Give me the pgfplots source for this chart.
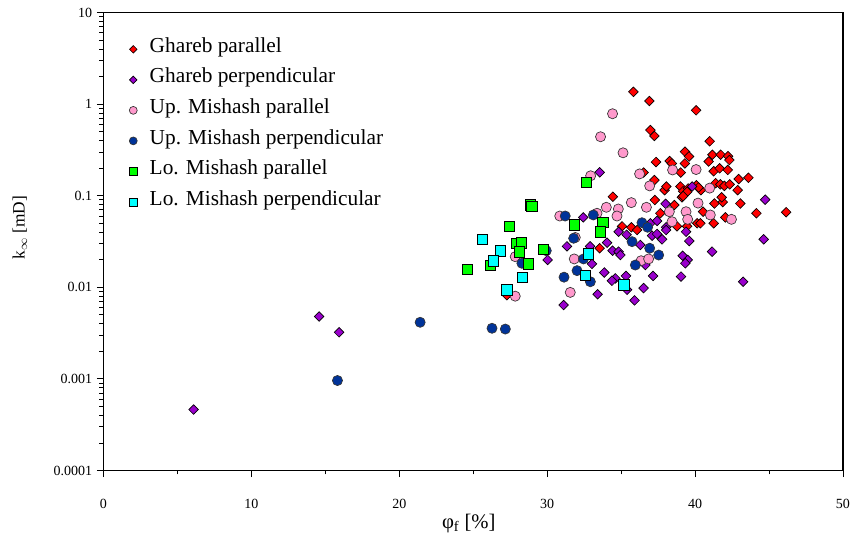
\documentclass[border=0pt]{standalone}
\usepackage{fontspec}
\setmainfont{Liberation Serif}
\usepackage{pgfplots}
\pgfplotsset{compat=1.18}
\definecolor{cred}{HTML}{FF0000}
\definecolor{cpurple}{HTML}{9900CC}
\definecolor{cpink}{HTML}{FF99CC}
\definecolor{cblue}{HTML}{003399}
\definecolor{cgreen}{HTML}{00FF00}
\definecolor{ccyan}{HTML}{00FFFF}
\begin{document}
\begin{tikzpicture}
\begin{axis}[
  at={(0,0)}, anchor=south west,
  scale only axis, width=554.6pt, height=343.5pt,
  xmin=0, xmax=50, ymode=log, ymin=1e-4, ymax=10,
  xtick={0,10,20,30,40,50}, minor xtick={5,15,25,35,45},
  ytick={1e-4,1e-3,1e-2,1e-1,1,10},
  yticklabels={0.0001,0.001,0.01,0.1,1,10},
  minor ytick={2e-4,3e-4,4e-4,5e-4,6e-4,7e-4,8e-4,9e-4,
               2e-3,3e-3,4e-3,5e-3,6e-3,7e-3,8e-3,9e-3,
               2e-2,3e-2,4e-2,5e-2,6e-2,7e-2,8e-2,9e-2,
               0.2,0.3,0.4,0.5,0.6,0.7,0.8,0.9,
               2,3,4,5,6,7,8,9},
  tick align=outside, tick pos=left,
  major tick length=5pt, minor tick length=3pt,
  axis line style={line width=0.8pt},
  every tick/.style={black, line width=0.6pt},
  tick label style={font=\fontsize{10.5}{12}\selectfont},
  /pgf/number format/assume math mode=true,
  xticklabel style={yshift=-13pt},
  every axis y label/.style={at={(axis description cs:-0.113,0.53)}, rotate=90, anchor=center, font=\fontsize{13}{16}\selectfont},
  every axis x label/.style={at={(axis description cs:0.494,-0.1147)}, anchor=center, font=\fontsize{15.5}{18}\selectfont},
  xlabel={φ\textsubscript{f} [\%]},
  ylabel={k$_\infty$ [mD]},
  legend style={at={(axis description cs:0.029,0.946)}, anchor=north west,
    draw=none, fill=none, font=\fontsize{16}{19}\selectfont,
    nodes={inner sep=2pt, text height=0.72em, text depth=0.25em},
    row sep=9.2pt, column sep=7.3pt},
  legend cell align=left,
  legend image code/.code={\draw[#1, every mark/.append style={scale=0.78}] plot coordinates {(0pt,0pt)};},
]
\addplot[only marks, mark=square*, mark size=2.55pt, mark options={rotate=45, fill=cred, draw=black, line width=0.5pt}] table {
x y
35.83 1.36
36.91 1.08
40.07 0.855
36.98 0.52
37.25 0.449
40.99 0.393
39.32 0.302
39.59 0.268
41.17 0.280
41.73 0.280
42.23 0.270
42.32 0.245
37.36 0.233
38.28 0.239
38.43 0.225
39.31 0.225
40.92 0.236
41.26 0.185
41.66 0.199
42.21 0.191
39.03 0.179
36.52 0.179
42.95 0.152
43.61 0.157
37.25 0.148
37.94 0.115
38.06 0.126
39.01 0.126
39.19 0.112
39.53 0.120
39.46 0.110
40.09 0.130
40.39 0.115
40.24 0.123
41.39 0.137
41.71 0.133
41.98 0.128
42.34 0.133
42.88 0.115
34.44 0.0975
37.28 0.0897
38.60 0.0791
39.11 0.096
39.19 0.099
41.31 0.0822
41.87 0.0853
41.80 0.096
43.06 0.0822
44.15 0.0643
46.16 0.066
37.65 0.0643
40.54 0.0669
42.05 0.058
40.14 0.050
40.36 0.050
41.26 0.050
38.78 0.0463
39.46 0.0463
35.06 0.0463
35.69 0.0452
36.08 0.0422
33.55 0.0267
27.28 0.0082
};
\addlegendentry{Ghareb parallel}
\addplot[only marks, mark=square*, mark size=2.55pt, mark options={rotate=45, fill=cpurple, draw=black, line width=0.5pt}] table {
x y
6.09 0.000463
14.58 0.0048
15.93 0.00323
33.55 0.180
32.44 0.058
36.98 0.050
38.04 0.0452
31.34 0.028
30.03 0.0199
32.90 0.028
34.05 0.0307
34.42 0.0251
34.83 0.0245
34.95 0.0225
33.86 0.0145
34.61 0.0125
34.38 0.0118
35.33 0.0133
35.40 0.0094
33.41 0.0084
31.11 0.0064
35.91 0.0072
33.03 0.0180
34.83 0.0404
35.37 0.0375
37.09 0.0366
37.43 0.0382
37.77 0.0334
38.04 0.0422
39.39 0.0404
39.61 0.032
36.30 0.029
44.64 0.0334
41.15 0.0245
36.64 0.0175
39.16 0.0221
39.50 0.0199
39.34 0.0183
37.16 0.0133
39.05 0.0131
43.25 0.0115
36.52 0.0098
38.01 0.0815
39.80 0.126
44.74 0.0905
37.43 0.053
};
\addlegendentry{Ghareb perpendicular}
\addplot[only marks, mark=*, mark size=3.8pt, mark options={fill=cpink, draw=black!80, line width=0.5pt}] table {
x y
34.42 0.785
33.61 0.440
35.13 0.294
32.94 0.165
36.25 0.173
38.48 0.191
40.07 0.193
36.93 0.128
40.99 0.121
35.69 0.084
34.00 0.0747
34.81 0.0716
36.71 0.0747
40.20 0.083
30.85 0.060
33.37 0.0643
34.72 0.060
38.26 0.0669
39.39 0.0669
39.50 0.0552
38.44 0.052
41.03 0.0616
42.46 0.0552
27.84 0.0216
27.84 0.0080
31.83 0.0204
31.56 0.0088
36.35 0.0195
36.86 0.0204
31.90 0.035
};
\addlegendentry{Up. Mishash parallel}
\addplot[only marks, mark=*, mark size=3.8pt, mark options={fill=cblue, draw=black!80, line width=0.5pt}] table {
x y
15.82 0.00096
21.41 0.00415
26.27 0.00357
27.17 0.0035
31.22 0.060
33.12 0.0616
36.41 0.0507
36.79 0.0452
35.74 0.0315
31.79 0.0343
29.94 0.0251
32.46 0.0204
35.96 0.0175
32.02 0.0152
32.92 0.0115
31.14 0.0129
28.29 0.0183
36.93 0.0267
37.54 0.0225
};
\addlegendentry{Up. Mishash perpendicular}
\addplot[only marks, mark=square*, mark size=3.9pt, mark options={fill=cgreen, draw=black, line width=0.5pt}] table {
x y
32.63 0.140
28.86 0.0795
28.97 0.0765
27.46 0.0463
27.91 0.0302
28.25 0.0307
28.13 0.0245
26.15 0.0175
28.74 0.0180
24.61 0.0157
29.76 0.0260
31.85 0.0479
33.75 0.0510
33.61 0.0404
};
\addlegendentry{Lo. Mishash parallel}
\addplot[only marks, mark=square*, mark size=3.9pt, mark options={fill=ccyan, draw=black, line width=0.5pt}] table {
x y
25.63 0.0334
26.85 0.0249
26.35 0.0194
28.34 0.0129
27.28 0.0094
32.80 0.0231
32.58 0.0136
35.17 0.0106
};
\addlegendentry{Lo. Mishash perpendicular}
\end{axis}
\pgfresetboundingbox
\path[use as bounding box] (-77.625pt,-52.875pt) rectangle (559.875pt,352.875pt);
\end{tikzpicture}
\end{document}
